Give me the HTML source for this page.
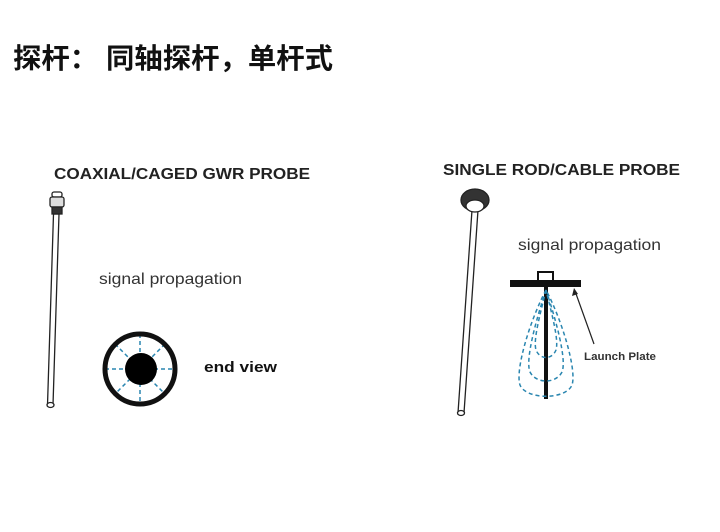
<!DOCTYPE html>
<html><head><meta charset="utf-8"><style>
html,body{margin:0;padding:0;background:#fff;}
svg{display:block;}
</style></head><body>
<svg width="720" height="532" viewBox="0 0 720 532" xmlns="http://www.w3.org/2000/svg">
<rect width="720" height="532" fill="#fff"/>
<text x="13" y="68" font-family="'Liberation Sans','Noto Sans CJK SC',sans-serif" font-size="28" font-weight="bold" fill="#111" textLength="320" lengthAdjust="spacingAndGlyphs">探杆： 同轴探杆，单杆式</text>
<text x="54" y="179" font-family="'Liberation Sans',sans-serif" font-size="16" font-weight="bold" fill="#222" textLength="256" lengthAdjust="spacingAndGlyphs">COAXIAL/CAGED GWR PROBE</text>
<text x="443" y="175" font-family="'Liberation Sans',sans-serif" font-size="16" font-weight="bold" fill="#222" textLength="237" lengthAdjust="spacingAndGlyphs">SINGLE ROD/CABLE PROBE</text>

<!-- left probe -->
<g stroke="#222" fill="#fff" stroke-width="1.3">
<polygon points="53.5,214 59,214 53,405 47.5,405"/>
<ellipse cx="50.5" cy="405" rx="3.5" ry="2.5"/>
<rect x="52" y="192" width="10" height="5" rx="2"/>
<rect x="50" y="197" width="14" height="10" rx="2" fill="#ddd"/>
<rect x="52" y="207" width="10" height="7" fill="#333"/>
</g>
<text x="99" y="284" font-family="'Liberation Sans',sans-serif" font-size="16" fill="#333" textLength="143" lengthAdjust="spacingAndGlyphs">signal propagation</text>
<!-- end view -->
<g stroke="#2a86b0" stroke-width="1.5" stroke-dasharray="4,3">
<line x1="140" y1="334" x2="140" y2="404"/>
<line x1="105" y1="369" x2="175" y2="369"/>
<line x1="115" y1="344" x2="165" y2="394"/>
<line x1="165" y1="344" x2="115" y2="394"/>
</g>
<circle cx="140" cy="369" r="35" fill="none" stroke="#111" stroke-width="5"/>
<circle cx="141" cy="369" r="16" fill="#000"/>
<text x="204" y="372" font-family="'Liberation Sans',sans-serif" font-size="15" font-weight="bold" fill="#111" textLength="73" lengthAdjust="spacingAndGlyphs">end view</text>

<!-- right probe -->
<g stroke="#222" fill="#fff" stroke-width="1.3">
<polygon points="472,210 478,210 464,413 458,413"/>
<ellipse cx="461" cy="413" rx="3.5" ry="2.5"/>
<ellipse cx="475" cy="200" rx="14" ry="11" fill="#333"/>
<ellipse cx="475" cy="206" rx="9" ry="6" fill="#fff"/>
</g>
<text x="518" y="250" font-family="'Liberation Sans',sans-serif" font-size="16" fill="#333" textLength="143" lengthAdjust="spacingAndGlyphs">signal propagation</text>
<rect x="538" y="272" width="15" height="9" fill="#fff" stroke="#111" stroke-width="2"/>
<rect x="510" y="280" width="71" height="7" fill="#111"/>
<rect x="544" y="287" width="4" height="112" fill="#111"/>
<g fill="none" stroke="#2a86b0" stroke-width="1.5" stroke-dasharray="4,3">
<path d="M546,290 C530,320 515,370 520,385 C526,400 566,400 572,385 C577,370 562,320 546,290"/>
<path d="M546,290 C536,320 525,360 530,372 C536,384 556,384 562,372 C567,360 556,320 546,290"/>
<path d="M546,290 C540,315 533,340 536,350 C540,360 552,360 556,350 C559,340 552,315 546,290"/>
</g>
<line x1="575" y1="291" x2="594" y2="344" stroke="#222" stroke-width="1.2"/>
<polygon points="574,288 572,296 578,294" fill="#222"/>
<text x="584" y="360" font-family="'Liberation Sans',sans-serif" font-size="11" font-weight="bold" fill="#333" textLength="72" lengthAdjust="spacingAndGlyphs">Launch Plate</text>
</svg>
</body></html>
